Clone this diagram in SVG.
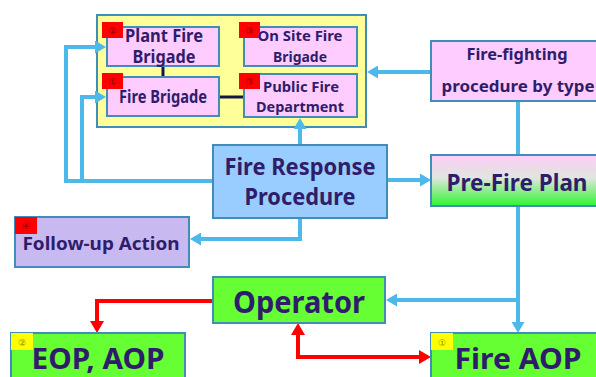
<svg xmlns="http://www.w3.org/2000/svg" width="596" height="377" viewBox="0 0 596 377">
<defs>
<style>
.box{stroke:#3f8db8;stroke-width:2}
.pink{fill:#ffccff}
.green{fill:#66ff33}
.t{font-family:"Noto Sans","Open Sans",sans-serif;font-weight:bold;fill:#2f1d6b;text-anchor:middle}
.badge-r{fill:#ff0000}
.badge-y{fill:#ffff00}
.bt-r{font-family:"DejaVu Sans",sans-serif;font-size:9px;fill:#8a0000;text-anchor:middle}
.bt-y{font-family:"DejaVu Sans",sans-serif;font-size:9px;fill:#8a8a00;text-anchor:middle}
.blue{fill:none;stroke:#4cb9ea;stroke-width:4}
.red{fill:none;stroke:#ff0000;stroke-width:4}
.dark{fill:none;stroke:#14164a;stroke-width:3}
</style>
<marker id="ab" markerUnits="userSpaceOnUse" markerWidth="11" markerHeight="13" refX="2" refY="6.5" orient="auto">
<path d="M0,0 L11,6.5 L0,13 z" fill="#4cb9ea"/>
</marker>
<marker id="ar" markerUnits="userSpaceOnUse" markerWidth="12" markerHeight="14" refX="2" refY="7" orient="auto-start-reverse">
<path d="M0,0 L12,7 L0,14 z" fill="#ff0000"/>
</marker>
<linearGradient id="gPre" x1="0" y1="0" x2="0" y2="1">
<stop offset="0" stop-color="#fccdf9"/>
<stop offset="0.45" stop-color="#e0e6de"/>
<stop offset="1" stop-color="#2ef52e"/>
</linearGradient>
</defs>

<g id="container">
<rect x="97" y="15" width="269" height="112" fill="#ffff99" class="box"/>
</g>

<g id="connectors">
<path class="blue" d="M213,181 H66 V47 H97" marker-end="url(#ab)"/>
<path class="blue" d="M82,181 V97 H97" marker-end="url(#ab)"/>
<path class="blue" d="M300,145 V127" marker-end="url(#ab)"/>
<path class="blue" d="M431,72 H376" marker-end="url(#ab)"/>
<path class="blue" d="M518,101 V155"/>
<path class="blue" d="M387,180 H422" marker-end="url(#ab)"/>
<path class="blue" d="M300,218 V239 H199" marker-end="url(#ab)"/>
<path class="blue" d="M518,206 V324" marker-end="url(#ab)"/>
<path class="blue" d="M518,300 H395" marker-end="url(#ab)"/>
<path class="red" d="M213,301 H97 V323" marker-end="url(#ar)"/>
<path class="red" d="M298,333 V357 H421" marker-start="url(#ar)" marker-end="url(#ar)"/>
<path class="dark" d="M163,66 V77"/>
<path class="dark" d="M219,97 H244"/>
</g>

<g id="plant-fire-brigade">
<rect x="107" y="27" width="112" height="39" class="box pink"/>
<rect x="102" y="22" width="21" height="16" class="badge-r"/>
<text x="112.5" y="33.5" class="bt-r">②</text>
<text x="164" y="42" class="t" font-size="17" textLength="78" lengthAdjust="spacingAndGlyphs">Plant Fire</text>
<text x="164" y="63" class="t" font-size="17" textLength="63" lengthAdjust="spacingAndGlyphs">Brigade</text>
</g>

<g id="on-site-fire-brigade">
<rect x="244" y="27" width="113" height="39" class="box pink"/>
<rect x="239" y="22" width="21" height="16" class="badge-r"/>
<text x="249.5" y="33.5" class="bt-r">③</text>
<text x="300" y="41" class="t" font-size="15" textLength="85" lengthAdjust="spacingAndGlyphs">On Site Fire</text>
<text x="300" y="62" class="t" font-size="15" textLength="54" lengthAdjust="spacingAndGlyphs">Brigade</text>
</g>

<g id="fire-brigade">
<rect x="107" y="77" width="112" height="39" class="box pink"/>
<rect x="102" y="73" width="21" height="16" class="badge-r"/>
<text x="112.5" y="84.5" class="bt-r">①</text>
<text x="163" y="103" class="t" font-size="17" textLength="88" lengthAdjust="spacingAndGlyphs">Fire Brigade</text>
</g>

<g id="public-fire-department">
<rect x="244" y="74" width="113" height="43" class="box pink"/>
<rect x="239" y="73" width="21" height="16" class="badge-r"/>
<text x="249.5" y="84.5" class="bt-r">③</text>
<text x="301" y="92" class="t" font-size="15" textLength="76" lengthAdjust="spacingAndGlyphs">Public Fire</text>
<text x="300" y="112" class="t" font-size="15" textLength="88" lengthAdjust="spacingAndGlyphs">Department</text>
</g>

<g id="fire-fighting-procedure">
<rect x="431" y="41" width="175" height="60" class="box pink"/>
<text x="517" y="60" class="t" font-size="16" textLength="101" lengthAdjust="spacingAndGlyphs">Fire-fighting</text>
<text x="518" y="92" class="t" font-size="16" textLength="153" lengthAdjust="spacingAndGlyphs">procedure by type</text>
</g>

<g id="fire-response-procedure">
<rect x="213" y="145" width="174" height="73" class="box" fill="#99ccff"/>
<text x="300" y="175" class="t" font-size="23" textLength="151" lengthAdjust="spacingAndGlyphs">Fire Response</text>
<text x="300" y="205" class="t" font-size="23" textLength="111" lengthAdjust="spacingAndGlyphs">Procedure</text>
</g>

<g id="pre-fire-plan">
<rect x="431" y="155" width="175" height="51" class="box" fill="url(#gPre)"/>
<text x="517" y="191" class="t" font-size="24" textLength="141" lengthAdjust="spacingAndGlyphs">Pre-Fire Plan</text>
</g>

<g id="follow-up-action">
<rect x="15" y="217" width="174" height="50" class="box" fill="#c9b9f1"/>
<rect x="15" y="217" width="22" height="17" class="badge-r"/>
<text x="26" y="228.5" class="bt-r">④</text>
<text x="101" y="250" class="t" font-size="18" textLength="157" lengthAdjust="spacingAndGlyphs">Follow-up Action</text>
</g>

<g id="operator">
<rect x="213" y="277" width="172" height="46" class="box green"/>
<text x="299" y="313" class="t" font-size="31" textLength="132" lengthAdjust="spacingAndGlyphs">Operator</text>
</g>

<g id="eop-aop">
<rect x="11" y="333" width="174" height="50" class="box green"/>
<rect x="11" y="333" width="22" height="17" class="badge-y"/>
<text x="22" y="345.5" class="bt-y">②</text>
<text x="98" y="369" class="t" font-size="29" textLength="133" lengthAdjust="spacingAndGlyphs">EOP, AOP</text>
</g>

<g id="fire-aop">
<rect x="431" y="333" width="175" height="50" class="box green"/>
<rect x="431" y="333" width="22" height="17" class="badge-y"/>
<text x="442" y="345.5" class="bt-y">①</text>
<text x="518" y="369" class="t" font-size="29" textLength="127" lengthAdjust="spacingAndGlyphs">Fire AOP</text>
</g>
</svg>
